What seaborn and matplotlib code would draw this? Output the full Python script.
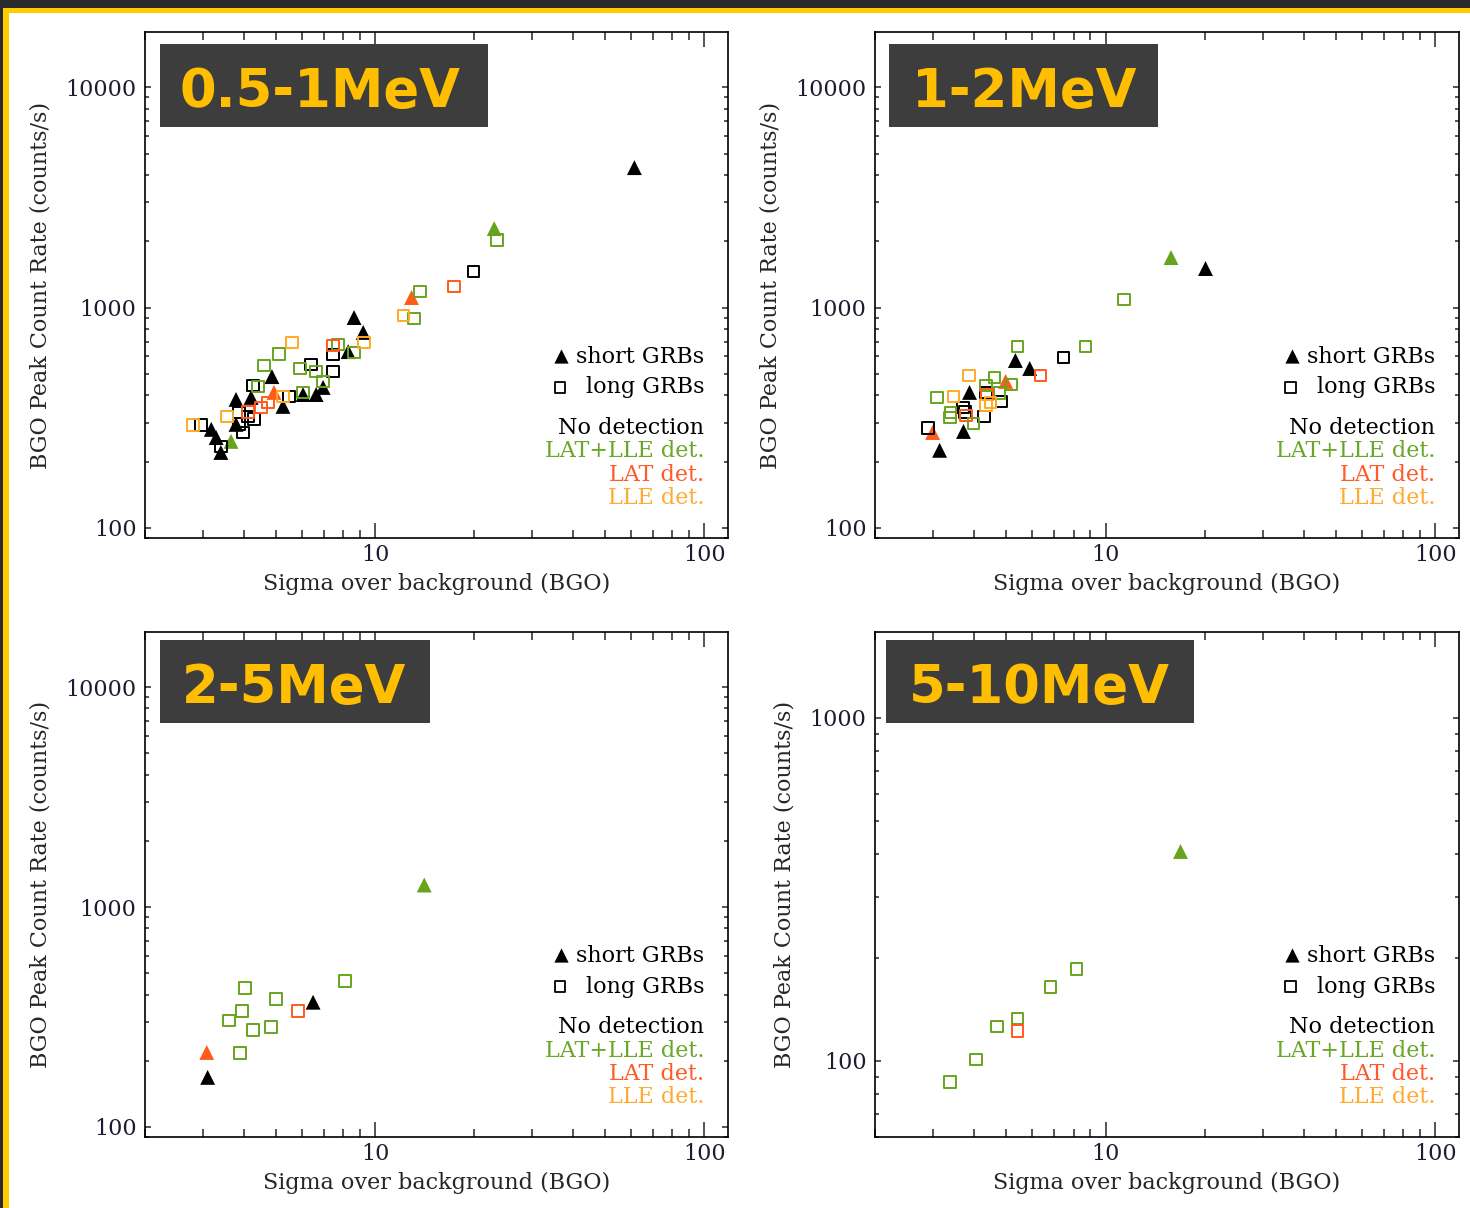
import matplotlib
matplotlib.use("Agg")
import matplotlib.pyplot as plt
import matplotlib.ticker as mticker
from matplotlib.patches import Rectangle
import seaborn as sns
import pandas as pd

# energy bands (panel titles)
bands = ["0.5-1MeV", "1-2MeV", "2-5MeV", "5-10MeV"]

# detection classes and their colours
det_order = ["none", "both", "lat", "lle"]
det_labels = ["No detection", "LAT+LLE det.", "LAT det.", "LLE det."]
det_colors = {"none": "black", "both": "#67a41e", "lat": "#ff5b1a", "lle": "#ffaa22"}
det_text_colors = ["black", "#6aa628", "#ff5a28", "#ffaa33"]

# ---- 0.5-1 MeV ----
short_sigma_1 = [61.3, 8.63, 9.20, 8.28, 4.86, 6.95, 6.04, 6.62, 5.25, 3.78, 4.20, 3.78, 3.18, 3.29, 3.40,
                 23.0, 3.65, 12.9, 4.93]
short_rate_1 = [4315, 901, 771, 631, 486, 434, 403, 403, 356, 383, 391, 295, 280, 257, 220,
                2282, 247, 1110, 412]
short_det_1 = ["none"] * 15 + ["both"] * 2 + ["lat"] * 2
long_sigma_1 = [7.45, 6.38, 7.45, 4.26, 5.48, 2.96, 3.40, 3.86, 4.11, 4.29, 3.86, 3.97, 19.9,
                7.72, 8.63, 5.11, 4.60, 5.92, 6.62, 6.95, 4.41, 6.04, 23.5, 13.7, 13.1,
                7.45, 4.73, 4.50, 4.11, 17.4,
                9.26, 5.59, 5.25, 3.55, 2.80, 12.2]
long_rate_1 = [612, 551, 513, 443, 395, 292, 234, 334, 320, 311, 295, 271, 1457,
               679, 625, 618, 546, 529, 513, 462, 438, 412, 2033, 1182, 891,
               672, 371, 352, 337, 1245,
               694, 694, 395, 320, 292, 920]
long_det_1 = ["none"] * 13 + ["both"] * 12 + ["lat"] * 5 + ["lle"] * 6

# ---- 1-2 MeV ----
short_sigma_2 = [20.1, 5.33, 5.89, 3.87, 3.71, 3.14, 15.8, 4.98, 2.99]
short_rate_2 = [1503, 575, 529, 412, 274, 225, 1686, 462, 271]
short_det_2 = ["none"] * 6 + ["both"] + ["lat"] * 2
long_sigma_2 = [7.46, 4.33, 4.84, 3.69, 3.74, 4.27, 2.89,
                11.4, 5.41, 8.70, 4.61, 5.19, 4.33, 3.08, 4.77, 3.39, 3.37, 3.98,
                6.35, 4.36, 3.77,
                3.85, 3.46, 4.33, 4.48]
long_rate_2 = [593, 412, 375, 352, 337, 320, 283,
               1087, 666, 666, 482, 448, 443, 391, 408, 334, 317, 298,
               492, 403, 324,
               492, 395, 359, 371]
long_det_2 = ["none"] * 7 + ["both"] * 11 + ["lat"] * 3 + ["lle"] * 4

# ---- 2-5 MeV ----
short_sigma_3 = [6.48, 3.10, 14.1, 3.08]
short_rate_3 = [369, 168, 1259, 218]
short_det_3 = ["none", "none", "both", "lat"]
long_sigma_3 = [8.11, 4.03, 5.00, 3.94, 3.60, 4.83, 4.26, 3.89, 5.83]
long_rate_3 = [460, 428, 381, 336, 305, 284, 275, 216, 336]
long_det_3 = ["both"] * 8 + ["lat"]

# ---- 5-10 MeV ----
short_sigma_4 = [16.8]
short_rate_4 = [409]
short_det_4 = ["both"]
long_sigma_4 = [8.17, 6.81, 5.41, 4.68, 4.04, 3.37, 5.41]
long_rate_4 = [185, 164, 133, 126, 101, 86.9, 122]
long_det_4 = ["both"] * 6 + ["lat"]

panels = [
    (short_sigma_1, short_rate_1, short_det_1, long_sigma_1, long_rate_1, long_det_1),
    (short_sigma_2, short_rate_2, short_det_2, long_sigma_2, long_rate_2, long_det_2),
    (short_sigma_3, short_rate_3, short_det_3, long_sigma_3, long_rate_3, long_det_3),
    (short_sigma_4, short_rate_4, short_det_4, long_sigma_4, long_rate_4, long_det_4),
]
ylims = [(90, 17800), (90, 17800), (90, 17800), (60, 1780)]
yticks = [[100, 1000, 10000], [100, 1000, 10000], [100, 1000, 10000], [100, 1000]]

sns.set_style("ticks")
plt.rcParams["font.family"] = ["DejaVu Serif"]

W, H = 1470, 1208
fig = plt.figure(figsize=(W / 100, H / 100), dpi=100)
fig.patch.set_facecolor("white")

# axes rectangles in pixels: left, top, right, bottom
ax_px = [(145, 32, 728, 538), (875, 32, 1459, 538), (145, 632, 728, 1137), (875, 632, 1459, 1137)]
# label boxes in pixels: left, top, right, bottom, text x
box_px = [(160, 44, 488, 127, 180), (889, 44, 1158, 127, 912),
          (160, 640, 430, 723, 182), (886, 640, 1194, 723, 909)]

for i, (ss, sr, sd, ls, lr, ld) in enumerate(panels):
    l, t, r, b = ax_px[i]
    ax = fig.add_axes([l / W, 1 - b / H, (r - l) / W, (b - t) / H])

    short_df = pd.DataFrame({"sigma": ss, "rate": sr, "det": sd})
    long_df = pd.DataFrame({"sigma": ls, "rate": lr, "det": ld})

    sns.scatterplot(data=short_df, x="sigma", y="rate", hue="det", palette=det_colors,
                    marker="^", s=115, linewidth=0, legend=False, ax=ax, zorder=3)
    sns.scatterplot(data=long_df, x="sigma", y="rate", hue="det", palette=det_colors,
                    marker="s", s=72, legend=False, ax=ax, zorder=4)
    coll = ax.collections[-1]
    coll.set_edgecolors(coll.get_facecolors())
    coll.set_facecolors("none")
    coll.set_linewidths(1.4)

    ax.set_xscale("log")
    ax.set_yscale("log")
    ax.set_xlim(2.0, 118)
    ax.set_ylim(*ylims[i])

    ax.xaxis.set_major_locator(mticker.FixedLocator([10, 100]))
    ax.xaxis.set_minor_locator(mticker.LogLocator(base=10, subs=range(2, 10)))
    ax.yaxis.set_major_locator(mticker.FixedLocator(yticks[i]))
    ax.yaxis.set_minor_locator(mticker.LogLocator(base=10, subs=range(2, 10)))
    ax.xaxis.set_major_formatter(mticker.FuncFormatter(lambda v, p: f"{v:.0f}"))
    ax.yaxis.set_major_formatter(mticker.FuncFormatter(lambda v, p: f"{v:.0f}"))
    ax.xaxis.set_minor_formatter(mticker.NullFormatter())
    ax.yaxis.set_minor_formatter(mticker.NullFormatter())

    ax.tick_params(which="both", direction="in", top=True, right=True, width=1.1,
                  labelsize=16, labelcolor="#1c1c30")
    ax.tick_params(axis="x", which="major", length=11, pad=4)
    ax.tick_params(axis="x", which="minor", length=6)
    ax.tick_params(axis="y", which="major", length=4.5, pad=6)
    ax.tick_params(axis="y", which="minor", length=3)
    for sp in ax.spines.values():
        sp.set_linewidth(1.2)
        sp.set_color("black")

    ax.set_xlabel("Sigma over background (BGO)", fontsize=16, labelpad=5)
    ax.set_ylabel("BGO Peak Count Rate (counts/s)", fontsize=16, labelpad=10)

    # legend drawn as text
    tx = 0.959
    ax.scatter([0.714], [0.360], transform=ax.transAxes, marker="^", s=105,
               color="black", linewidth=0, clip_on=False, zorder=5)
    ax.text(tx, 0.358, "short GRBs", transform=ax.transAxes, ha="right", va="center",
            fontsize=16, color="black")
    ax.scatter([0.712], [0.298], transform=ax.transAxes, marker="s", s=60,
               facecolors="none", edgecolors="black", linewidths=1.3, clip_on=False, zorder=5)
    ax.text(tx, 0.298, "long GRBs", transform=ax.transAxes, ha="right", va="center",
            fontsize=16, color="black")
    for k, (lab, col) in enumerate(zip(det_labels, det_text_colors)):
        ax.text(tx, 0.217 - k * 0.046, lab, transform=ax.transAxes, ha="right", va="center",
                fontsize=16, color=col)

    # band label box
    bl, bt, br, bb, bx = box_px[i]
    fig.add_artist(Rectangle((bl / W, 1 - bb / H), (br - bl) / W, (bb - bt) / H,
                             transform=fig.transFigure, facecolor="#3d3d3d",
                             edgecolor="none", zorder=10))
    fig.text(bx / W, 1 - (bb - 20) / H, bands[i], ha="left", va="baseline",
             fontsize=38, fontweight="bold", color="#ffbf00",
             family=["DejaVu Sans"], zorder=11)

# frame: dark top bar and yellow border
fig.add_artist(Rectangle((0, 1 - 8 / H), 1, 8 / H, transform=fig.transFigure,
                         facecolor="#2a2a2a", edgecolor="none", zorder=12))
fig.add_artist(Rectangle((0, 1 - 13 / H), 1, 5 / H, transform=fig.transFigure,
                         facecolor="#ffcc00", edgecolor="none", zorder=12))
fig.add_artist(Rectangle((0, 0), 3 / W, 1, transform=fig.transFigure,
                         facecolor="#2a2a2a", edgecolor="none", zorder=12))
fig.add_artist(Rectangle((3 / W, 0), 6 / W, 1 - 8 / H, transform=fig.transFigure,
                         facecolor="#ffcc00", edgecolor="none", zorder=12))

fig.savefig("out.png", dpi=100, facecolor="white")
